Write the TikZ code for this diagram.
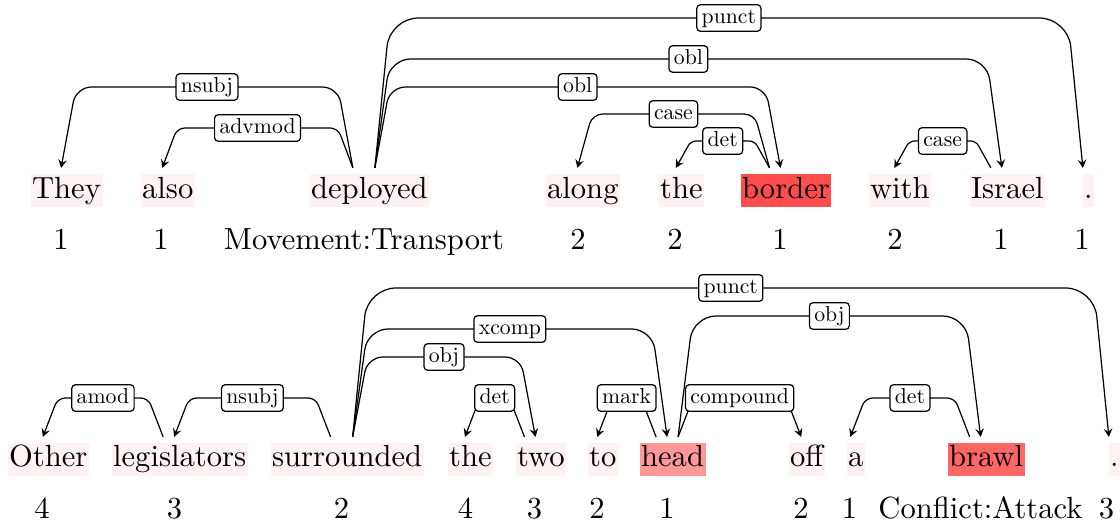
\documentclass[tikz,border=0pt]{standalone}
\usepackage{graphicx}
\usetikzlibrary{calc,arrows.meta}

% One dependency arc: from #1 (x offset #2) to #3 (x offset #4),
% horizontal part at level #5, label node #6 with text #7.
\newcommand\depedge[7]{%
  \coordinate (S) at ([shift={(#2,-5)}]#1.north);
  \coordinate (E) at ([shift={(#4,-5)}]#3.north);
  \draw[edge] let \p1=(S), \p2=(E), \p3=(0,#5),
      \n1={(\x2-\x1)/abs(\x2-\x1)}, \n2={0.19*(\y3-\y1)} in
      [rounded corners=\n2] (S) -- (\x1+\n1*4.9pt,\y3) -- (\x2-\n1*4.9pt,\y3) -- (E);
  \path let \p1=(S), \p2=(E), \p3=(0,#5) in
      node[lbl] (#6) at ({(\x1+\x2)/2},\y3) {\scalebox{0.71}{#7}};
}

\begin{document}
\begin{tikzpicture}[x=0.3268pt,y=-0.3268pt,
  word/.style={anchor=base west, inner xsep=0.5pt, inner ysep=0.5pt,
               text height=7.5pt, text depth=2.5pt, fill=red!5},
  num/.style={anchor=base, inner sep=0pt},
  lbl/.style={draw, fill=white, rounded corners=1.2pt, line width=0.4pt,
              inner xsep=1.6pt, inner ysep=1pt,
              text height=5.2pt, text depth=1.5pt},
  edge/.style={-{Stealth[length=2.7pt,width=2.8pt,inset=1pt]}, line width=0.4pt}]
\useasboundingbox (0,0) rectangle (1120,529);

% first sentence
\node[word] (w1) at (30,198) {They};
\node[word] (w2) at (140,198) {also};
\node[word] (w3) at (309,198) {deployed};
\node[word] (w4) at (545,198) {along};
\node[word] (w5) at (658,198) {the};
\node[word, fill=red!70] (w6) at (740,198) {border};
\node[word] (w7) at (868,198) {with};
\node[word] (w8) at (969,198) {Israel};
\node[word] (w9) at (1082,198) {.};

\node[num] (n1) at (61,250) {1};
\node[num] (n2) at (161,250) {1};
\node[num] (n3) at (364,250) {Movement:Transport};
\node[num] (n4) at (578,250) {2};
\node[num] (n5) at (675,250) {2};
\node[num] (n6) at (780,250) {1};
\node[num] (n7) at (895,250) {2};
\node[num] (n8) at (1001,250) {1};
\node[num] (n9) at (1082,250) {1};

\depedge{w3}{-16.5}{w1}{-5.5}{87}{l1}{nsubj}
\depedge{w3}{-16.5}{w2}{-5.5}{128}{l2}{advmod}
\depedge{w3}{5.5}{w6}{-5.5}{87}{l3}{obl}
\depedge{w3}{5.5}{w8}{-5.5}{59}{l4}{obl}
\depedge{w3}{5.5}{w9}{-5.5}{18}{l5}{punct}
\depedge{w6}{-16.5}{w4}{-5.5}{114}{l6}{case}
\depedge{w6}{-16.5}{w5}{-5.5}{141}{l7}{det}
\depedge{w8}{-16.5}{w7}{-5.5}{141}{l8}{case}

% second sentence
\node[word] (v1) at (7,467) {Other};
\node[word] (v2) at (111,467) {legislators};
\node[word] (v3) at (270,467) {surrounded};
\node[word] (v4) at (447,467) {the};
\node[word] (v5) at (515,467) {two};
\node[word] (v6) at (587,467) {to};
\node[word, fill=red!40] (v7) at (639,467) {head};
\node[word] (v8) at (788,467) {off};
\node[word] (v9) at (846,467) {a};
\node[word, fill=red!60] (v10) at (947,467) {brawl};
\node[word] (v11) at (1108,467) {.};

\node[num] (k1) at (42,519) {4};
\node[num] (k2) at (174.5,519) {3};
\node[num] (k3) at (341.5,519) {2};
\node[num] (k4) at (465.5,519) {4};
\node[num] (k5) at (534.5,519) {3};
\node[num] (k6) at (597,519) {2};
\node[num] (k7) at (667,519) {1};
\node[num] (k8) at (801,519) {2};
\node[num] (k9) at (849.5,519) {1};
\node[num] (k10) at (980.5,519) {Conflict:Attack};
\node[num] (k11) at (1106.5,519) {3};

\depedge{v2}{-16.5}{v1}{-5.5}{398}{m1}{amod}
\depedge{v3}{-16.5}{v2}{-5.5}{398}{m2}{nsubj}
\depedge{v3}{5.5}{v11}{-5.5}{288}{m3}{punct}
\depedge{v3}{5.5}{v7}{-5.5}{329}{m4}{xcomp}
\depedge{v3}{5.5}{v5}{-5.5}{357}{m5}{obj}
\depedge{v5}{-16.5}{v4}{-5.5}{398}{m6}{det}
\depedge{v7}{-16.5}{v6}{-5.5}{398}{m7}{mark}
\depedge{v7}{5.5}{v8}{-5.5}{398}{m8}{compound}
\depedge{v7}{5.5}{v10}{-5.5}{316}{m9}{obj}
\depedge{v10}{-16.5}{v9}{-5.5}{398}{m10}{det}
\end{tikzpicture}
\end{document}
